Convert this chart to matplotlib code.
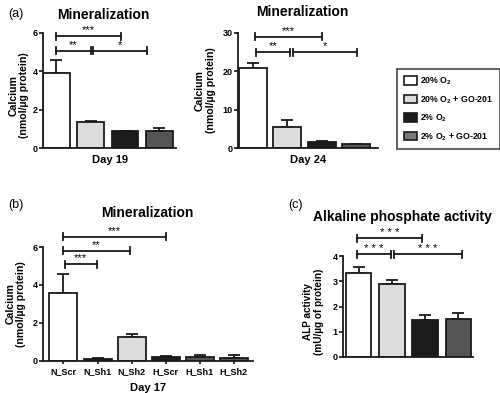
import matplotlib
matplotlib.use("Agg")
import matplotlib.pyplot as plt
from matplotlib.patches import Patch

plt.rcParams['font.family'] = ['Liberation Sans', 'DejaVu Sans']
plt.rcParams['font.weight'] = 'bold'
plt.rcParams['mathtext.fontset'] = 'custom'
plt.rcParams['mathtext.rm'] = 'Liberation Sans:bold'
plt.rcParams['mathtext.bf'] = 'Liberation Sans:bold'

# ---------------- data ----------------
groups_a = ["20% O$_2$", "20% O$_2$ + GO-201", "2% O$_2$", "2% O$_2$ + GO-201"]
colors_a = ["#ffffff", "#dcdcdc", "#1c1c1c", "#555555"]
legend_colors = ["#ffffff", "#dcdcdc", "#1c1c1c", "#777777"]

day19_mean = [3.9, 1.36, 0.87, 0.87]
day19_err = [0.7, 0.06, 0.03, 0.18]

day24_mean = [20.8, 5.5, 1.55, 0.95]
day24_err = [1.5, 1.9, 0.25, 0.15]

b_labels = ["N_Scr", "N_Sh1", "N_Sh2", "H_Scr", "H_Sh1", "H_Sh2"]
b_colors = ["#ffffff", "#1c1c1c", "#dcdcdc", "#1c1c1c", "#555555", "#555555"]
day17_mean = [3.57, 0.12, 1.25, 0.2, 0.2, 0.18]
day17_err = [1.0, 0.06, 0.18, 0.05, 0.12, 0.12]

alp_mean = [3.32, 2.9, 1.48, 1.52]
alp_err = [0.25, 0.15, 0.2, 0.22]

# significance brackets: (x_start, x_end, y, label)
sig_a1 = [(-0.02, 1.9, 5.83, "***"), (0.0, 1.0, 5.07, "**"), (1.08, 2.63, 5.07, "*")]
sig_a2 = [(0.06, 2.01, 29.0, "***"), (0.09, 1.08, 25.0, "**"), (1.17, 3.01, 25.0, "*")]
sig_b = [(-0.02, 3.0, 6.54, "***"), (-0.02, 1.96, 5.8, "**"), (0.04, 0.98, 5.1, "***")]
sig_c = [(-0.06, 1.92, 4.7, "* * *"), (-0.04, 0.97, 4.07, "* * *"), (1.07, 3.1, 4.07, "* * *")]

W, H = 500, 393
fig = plt.figure(figsize=(W / 100, H / 100), dpi=100)


def ax_px(x0, x1, ytop, ybot):
    return fig.add_axes([x0 / W, 1 - ybot / H, (x1 - x0) / W, (ybot - ytop) / H])


def bars(ax, means, errs, colors, width):
    xs = list(range(len(means)))
    ax.bar(xs, means, width=width, color=colors, edgecolor="#1a1a1a", linewidth=1.3, zorder=2)
    ax.errorbar(xs, means, yerr=[[0] * len(errs), errs], fmt="none", ecolor="#1a1a1a",
                elinewidth=1.3, capsize=4, capthick=1.3, zorder=1)


def style(ax, ylim, yticks):
    ax.set_ylim(*ylim)
    ax.set_yticks(yticks)
    for s in ["top", "right"]:
        ax.spines[s].set_visible(False)
    for s in ["left", "bottom"]:
        ax.spines[s].set_linewidth(1.3)
        ax.spines[s].set_color("#1a1a1a")
    ax.tick_params(axis="y", length=3, width=1.1, labelsize=6.5, pad=1)
    for lab in ax.get_yticklabels():
        lab.set_fontweight("bold")


def brackets(ax, sigs, ytop, hpx):
    tick = ytop * 3.5 / hpx
    for x0, x1, y, lab in sigs:
        ax.plot([x0, x1], [y, y], color="#1a1a1a", lw=1.3, clip_on=False)
        ax.plot([x0, x0], [y - tick, y + tick], color="#1a1a1a", lw=1.3, clip_on=False)
        ax.plot([x1, x1], [y - tick, y + tick], color="#1a1a1a", lw=1.3, clip_on=False)
        ax.text((x0 + x1) / 2, y + tick * 0.2, lab, ha="center", va="bottom",
                fontsize=8, fontweight="normal", clip_on=False)


ylab_ca = "Calcium\n(nmol/\u00b5g protein)"

# ---- panel a1 ----
ax1 = ax_px(43, 176, 33, 148)
bars(ax1, day19_mean, day19_err, colors_a, 0.78)
ax1.set_xlim(-0.39, 3.49)
style(ax1, (0, 6), [0, 2, 4, 6])
ax1.set_xticks([])
ax1.set_xlabel("Day 19", fontsize=8, fontweight="bold", labelpad=5)
ax1.set_ylabel(ylab_ca, fontsize=7.6, fontweight="bold", linespacing=1.1)
ax1.yaxis.set_label_coords(-0.105, 0.46)
brackets(ax1, sig_a1, 6, 115)

# ---- panel a2 ----
ax2 = ax_px(238, 378, 33, 148)
bars(ax2, day24_mean, day24_err, colors_a, 0.82)
ax2.set_xlim(-0.43, 3.63)
style(ax2, (0, 30), [0, 10, 20, 30])
ax2.set_xticks([])
ax2.set_xlabel("Day 24", fontsize=8, fontweight="bold", labelpad=5)
ax2.set_ylabel(ylab_ca, fontsize=7.6, fontweight="bold", linespacing=1.1)
ax2.yaxis.set_label_coords(-0.16, 0.5)
brackets(ax2, sig_a2, 30, 115)

# ---- legend ----
handles = [Patch(facecolor=c, edgecolor="#1a1a1a", linewidth=1.2) for c in legend_colors]
leg = fig.legend(handles, groups_a, loc="upper left", bbox_to_anchor=(397 / W, 1 - 69 / H),
                 frameon=True, fancybox=False, edgecolor="#1a1a1a", fontsize=6.3,
                 handlelength=1.5, handleheight=1.1, handletextpad=0.4, labelspacing=0.8,
                 borderpad=0.75, borderaxespad=0)
leg.get_frame().set_linewidth(1.2)

# ---- panel b ----
axb = ax_px(43, 253, 247, 361)
bars(axb, day17_mean, day17_err, b_colors, 0.82)
axb.set_xlim(-0.6, 5.56)
style(axb, (0, 6), [0, 2, 4, 6])
axb.set_xticks(range(len(b_labels)))
axb.set_xticklabels(b_labels, fontsize=6.5, fontweight="bold")
axb.tick_params(axis="x", length=2.5, width=1.1, pad=2)
axb.set_xlabel("Day 17", fontsize=8, fontweight="bold", labelpad=5)
axb.set_ylabel(ylab_ca, fontsize=7.6, fontweight="bold", linespacing=1.1)
axb.yaxis.set_label_coords(-0.081, 0.5)
brackets(axb, sig_b, 6, 114)

# ---- panel c ----
axc = ax_px(343, 473, 256, 357)
bars(axc, alp_mean, alp_err, colors_a, 0.76)
axc.set_xlim(-0.47, 3.44)
style(axc, (0, 4), [0, 1, 2, 3, 4])
axc.set_xticks([])
axc.set_ylabel("ALP activity\n(mU/\u00b5g of protein)", fontsize=7.2, fontweight="bold", linespacing=1.1)
axc.yaxis.set_label_coords(-0.15, 0.45)
brackets(axc, sig_c, 4, 101)

# titles
def ftext(x, y, s, **kw):
    fig.text(x / W, 1 - y / H, s, **kw)

ftext(103, 15, "Mineralization", fontsize=10, fontweight="bold", ha="center", va="center")
ftext(302, 12, "Mineralization", fontsize=10, fontweight="bold", ha="center", va="center")
ftext(147.5, 213, "Mineralization", fontsize=10, fontweight="bold", ha="center", va="center")
ftext(402, 217, "Alkaline phosphate activity", fontsize=10, fontweight="bold", ha="center", va="center")

# panel letters
ftext(8, 14, "(a)", fontsize=9, fontweight="normal", va="center")
ftext(8, 205, "(b)", fontsize=9, fontweight="normal", va="center")
ftext(288, 205, "(c)", fontsize=9, fontweight="normal", va="center")

fig.savefig("out.png", dpi=100)
